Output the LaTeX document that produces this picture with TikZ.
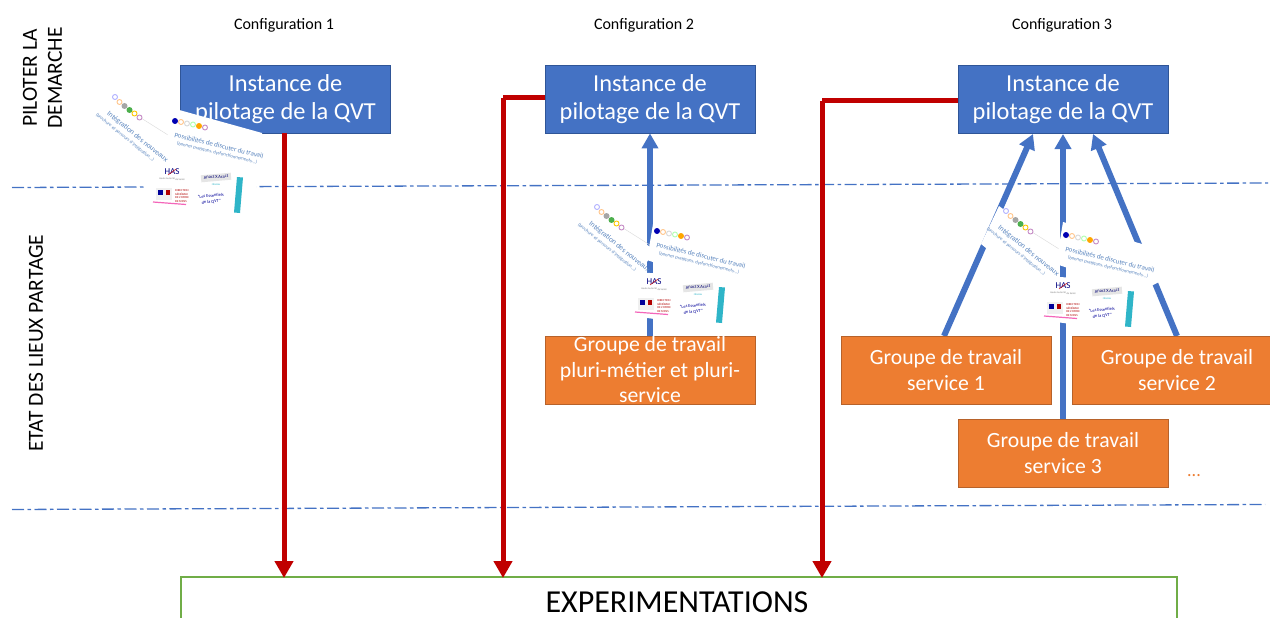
\documentclass[tikz,border=0pt]{standalone}
\usepackage{fontspec}
\setmainfont{Carlito}
\usetikzlibrary{arrows.meta}
\definecolor{bluebox}{HTML}{4472C4}
\definecolor{blueedge}{HTML}{2F5597}
\definecolor{orangebox}{HTML}{ED7D31}
\definecolor{orangeedge}{HTML}{B7622A}
\definecolor{redline}{HTML}{C00000}
\definecolor{greenedge}{HTML}{70AD47}
\definecolor{tealbar}{HTML}{2FB5C8}
\definecolor{softtext}{HTML}{5B86BF}
\tikzset{
  x=1pt,y=-1pt,
  pilotbox/.style={draw=blueedge,line width=0.8pt,fill=bluebox,text=white,minimum width=210pt,minimum height=68pt,inner sep=0pt,align=center,font=\fontsize{24.4}{28.5}\selectfont},
  groupbox/.style={draw=orangeedge,line width=0.8pt,fill=orangebox,text=white,minimum width=210pt,minimum height=68pt,inner sep=0pt,align=center,font=\fontsize{21.7}{25.5}\selectfont},
  cfglabel/.style={font=\fontsize{16}{18}\selectfont,inner sep=0pt},
  sidelabel/.style={font=\fontsize{21.5}{25}\selectfont,rotate=90,inner sep=0pt,align=center},
  redarrow/.style={draw=redline,line width=5pt,-{Triangle[length=17pt,width=18pt]}},
  redtop/.style={draw=redline,line width=5pt},
  bluearrow/.style={draw=bluebox,line width=6pt,-{Triangle[length=15pt,width=16pt]}},
  sepline/.style={draw=bluebox,line width=1.3pt,dash pattern=on 12pt off 3.5pt on 3.5pt off 3.5pt},
  panel/.style={fill=white,draw=none},
  ringmark/.style={circle,draw=#1,fill=white,line width=0.9pt,minimum size=5pt,inner sep=0pt},
  dotmark/.style={circle,fill=#1,minimum size=6pt,inner sep=0pt},
  tiny/.style={inner sep=0pt,text=softtext},
}
\newcommand{\collagecards}[3]{%
\begin{scope}[shift={(#2,#3)}]
  \fill[panel] (108,92) -- (172,140) -- (150,178) -- (90,130) -- cycle;
  \draw[black!15,line width=0.4pt] (141,118) -- (168,135);
  \node[ringmark=blue!30] (#1r1) at (115,97) {};
  \node[ringmark=orange!45] (#1r2) at (119.5,102) {};
  \node[dotmark=gray!70] (#1r3) at (124.5,106) {};
  \node[dotmark=green!55!black!70] (#1r4) at (129.5,110) {};
  \node[ringmark=yellow!60!orange] (#1r5) at (134.5,113.5) {};
  \node[ringmark=violet!45] (#1r6) at (139.5,117.5) {};
  \node[tiny,rotate=-39,font=\fontsize{7.4}{8}\selectfont] (#1t1) at (137.5,137) {Intégration des nouveaux};
  \node[tiny,rotate=-39,font=\fontsize{4.8}{5}\selectfont] (#1t2) at (125,137.5) {(brochure et parcours d'intégration...)};
  \fill[panel] (172,108) -- (262,133) -- (268,168) -- (248,178) -- (165,150) -- cycle;
  \node[dotmark=blue!70!black] (#1p1) at (175,121) {};
  \node[ringmark=orange!45] (#1p2) at (181,122) {};
  \node[ringmark=gray!30] (#1p3) at (187,123.5) {};
  \node[ringmark=green!30] (#1p4) at (193,124.5) {};
  \node[dotmark=orange!70!yellow] (#1p5) at (199,126) {};
  \node[ringmark=violet!45] (#1p6) at (205,127.5) {};
  \node[tiny,rotate=-13.5,font=\fontsize{6.9}{8}\selectfont] (#1t3) at (219,145.5) {Possibilités de discuter du travail};
  \node[tiny,rotate=-13.5,font=\fontsize{4.8}{5}\selectfont] (#1t4) at (217,153) {(bonnes pratiques, dysfonctionnements...)};
  \fill[panel] (150,162) -- (258,168) -- (254,220) -- (143,205) -- cycle;
  \node[inner sep=0pt,text=blue!50!black,font=\fontsize{9}{10}\selectfont] (#1h) at (172,171.5) {HAS};
  \draw[red!80!black,line width=0.5pt] (168,175) -- (176,169);
  \node[inner sep=0pt,text=gray,font=\fontsize{2.6}{3}\selectfont,rotate=-3] (#1h2) at (172,179) {Haute Autorité de Santé};
  \fill[black!6] (156,188) rectangle (172,200);
  \fill[blue!60!black] (158,190) rectangle (163,195);
  \fill[red!70!black] (166,190) rectangle (170,195);
  \node[inner sep=0pt,text=red!70!black,font=\fontsize{3}{3.4}\selectfont,align=left] (#1m) at (182,196) {DIRECTION\\GÉNÉRALE\\DE L'OFFRE\\DE SOINS};
  \draw[magenta!60,line width=1.2pt] (153,202) -- (186,204.5);
  \fill[black!10,rotate around={5:(216,177)}] (201,174) rectangle (231,181);
  \node[inner sep=0pt,text=blue!45!black,font=\fontsize{4.6}{5}\selectfont,rotate=3] (#1a) at (216,177) {Anact\,X\,Aract};
  \node[inner sep=0pt,text=tealbar,font=\fontsize{3}{3.4}\selectfont] (#1a2) at (216,184) {réseau};
  \node[tiny,align=center,rotate=5,text=blue!60!black,font=\fontsize{4.4}{6}\selectfont] (#1e) at (211,199) {"Les Essentiels\\de la QVT"};
  \fill[tealbar] (237,177) -- (243,177.5) -- (240,213) -- (234,212.5) -- cycle;
\end{scope}}
\begin{document}
\begin{tikzpicture}
\useasboundingbox (0,0) rectangle (1270,618);
\clip (0,0) rectangle (1270,618);
\fill[white] (0,0) rectangle (1270,618);

\coordinate (s1a) at (12,187.5);
\coordinate (s1b) at (1268,183);
\coordinate (s2a) at (12,509.5);
\coordinate (s2b) at (1265,504.5);
\draw[sepline] (s1a) -- (s1b);
\draw[sepline] (s2a) -- (s2b);

\node[draw=greenedge,line width=1.2pt,fill=white,minimum width=996pt,minimum height=80pt,inner sep=0pt] (exp) at (679,617) {};
\node[inner sep=0pt,font=\fontsize{32}{36}\selectfont] (exptxt) at (677,602) {EXPERIMENTATIONS};

\node[cfglabel] (c1) at (284,25) {Configuration 1};
\node[cfglabel] (c2) at (644,25) {Configuration 2};
\node[cfglabel] (c3) at (1062,25) {Configuration 3};
\node[sidelabel] (side1) at (42.5,78) {PILOTER LA\\DEMARCHE};
\node[sidelabel] (side2) at (36,343) {ETAT DES LIEUX PARTAGE};

\node[pilotbox] (inst1) at (285.5,99) {Instance de\\pilotage de la QVT};
\node[pilotbox] (inst2) at (650,99) {Instance de\\pilotage de la QVT};
\node[pilotbox] (inst3) at (1063,99) {Instance de\\pilotage de la QVT};

\coordinate (e1) at (284,578);
\coordinate (e2) at (503,578);
\coordinate (e3) at (822,578);
\coordinate (b2) at (503,98);
\coordinate (b3) at (822,101);
\coordinate (u1) at (284,133);
\draw[redarrow] (u1) -- (e1);
\draw[redtop] (inst2.west |- b2) -- (b2);
\draw[redarrow] (b2) -- (e2);
\draw[redtop] (inst3.west |- b3) -- (b3);
\draw[redarrow] (b3) -- (e3);

\coordinate (ta) at (1033,134);
\coordinate (tb) at (1063,134);
\coordinate (tc) at (1093,134);
\coordinate (fa) at (944,336);
\coordinate (fc) at (1177,336);
\coordinate (f2) at (650,336);
\coordinate (fb) at (1063,419);
\draw[bluearrow] (f2) -- (inst2.south);
\draw[bluearrow] (fa) -- (ta);
\draw[bluearrow] (fb) -- (tb);
\draw[bluearrow] (fc) -- (tc);

\collagecards{ca}{0}{0}
\collagecards{cb}{482}{110}
\collagecards{cc}{891}{114}

\node[groupbox] (g2) at (650,370) {Groupe de travail\\pluri-métier et pluri-\\service};
\node[groupbox] (ga) at (946,370) {Groupe de travail\\service 1};
\node[groupbox] (gb) at (1177,370) {Groupe de travail\\service 2};
\node[groupbox] (gc) at (1063,453) {Groupe de travail\\service 3};
\node[inner sep=0pt,text=orangebox,font=\fontsize{18}{20}\selectfont] (dots) at (1194,476) {...};
\end{tikzpicture}
\end{document}
